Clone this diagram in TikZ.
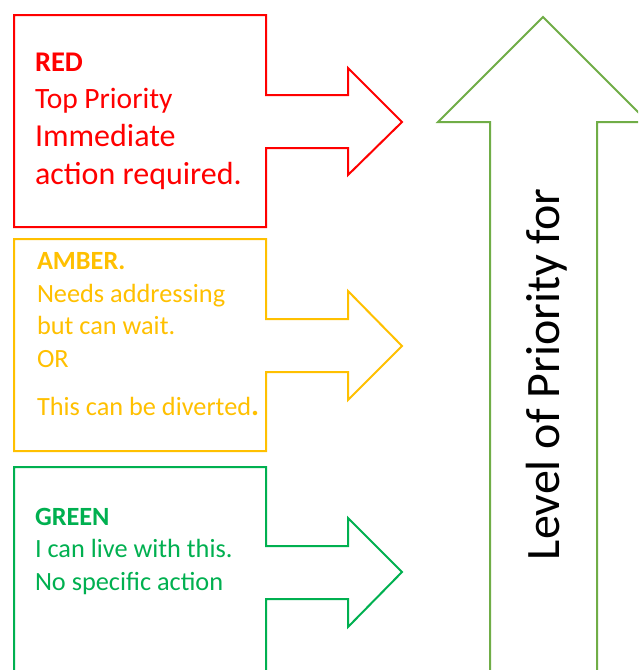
\documentclass[tikz,border=0pt]{standalone}
\usepackage{fontspec}
\setmainfont{Carlito}
\definecolor{cred}{HTML}{FF0000}
\definecolor{camber}{HTML}{FFC000}
\definecolor{cgreen}{HTML}{00B050}
\definecolor{cbig}{HTML}{70AD47}
\begin{document}
\begin{tikzpicture}[x=1pt,y=-1pt,
  outline/.style={line width=2pt, line join=miter},
  txt/.style={anchor=base west, inner sep=0pt, outer sep=0pt},
  smalltxt/.style={txt, font=\fontsize{26.3}{30}\selectfont},
  bigtxt/.style={txt, font=\fontsize{32}{36}\selectfont},
  midtxt/.style={txt, font=\fontsize{29.5}{33}\selectfont}]
\clip (0,0) rectangle (638,670);
\fill[white] (0,0) rectangle (638,670);
% big arrow
\draw[cbig, outline] (490,700) -- (490,122) -- (438,122) -- (543,17) -- (648,122) -- (597,122) -- (597,700);
\node[txt, rotate=90, font=\fontsize{48}{50}\selectfont] (lvl) at (559,560) {Level of Priority for};
% red
\draw[cred, outline] (14,15) -- (266,15) -- (266,95) -- (348,95) -- (348,68) -- (402,122) -- (348,175) -- (348,148) -- (266,148) -- (266,227) -- (14,227) -- cycle;
\node[midtxt, text=cred, font=\fontsize{28.5}{33}\selectfont\bfseries] (r1) at (35,71) {RED};
\node[midtxt, text=cred] (r2) at (35,108) {Top Priority};
\node[bigtxt, text=cred] (r3) at (35,146) {Immediate};
\node[bigtxt, text=cred] (r4) at (35,184) {action required.};
% amber
\draw[camber, outline] (14,239) -- (266,239) -- (266,319) -- (348,319) -- (348,291) -- (402,346) -- (348,400) -- (348,372) -- (266,372) -- (266,451) -- (14,451) -- cycle;
\node[smalltxt, text=camber, font=\fontsize{26.3}{30}\selectfont\bfseries] (a1) at (37,269) {AMBER.};
\node[smalltxt, text=camber] (a2) at (37,302) {Needs addressing};
\node[smalltxt, text=camber] (a3) at (37,334) {but can wait.};
\node[smalltxt, text=camber] (a4) at (37,367) {OR};
\node[smalltxt, text=camber] (a5) at (37,415) {This can be diverted{\fontsize{30}{30}\selectfont\bfseries.}};
% green
\draw[cgreen, outline] (14,700) -- (14,467) -- (266,467) -- (266,546) -- (348,546) -- (348,518) -- (402,572) -- (348,627) -- (348,599) -- (266,599) -- (266,700);
\node[smalltxt, text=cgreen, font=\fontsize{26.3}{30}\selectfont\bfseries] (g1) at (35,525) {GREEN};
\node[smalltxt, text=cgreen] (g2) at (35,557) {I can live with this.};
\node[smalltxt, text=cgreen] (g3) at (35,590) {No specific action};
\end{tikzpicture}
\end{document}
